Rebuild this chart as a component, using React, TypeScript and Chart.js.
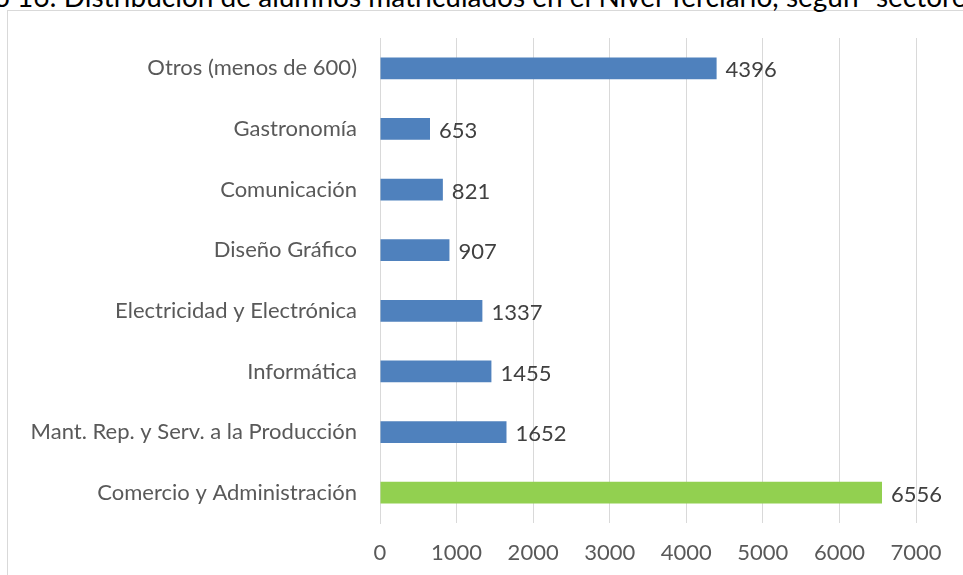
import React, { useEffect, useRef } from "react";
import { Chart, registerables } from "chart.js";

Chart.register(...registerables);

const categories = [
  "Otros (menos de 600)",
  "Gastronomía",
  "Comunicación",
  "Diseño Gráfico",
  "Electricidad y Electrónica",
  "Informática",
  "Mant. Rep. y Serv. a la Producción",
  "Comercio y Administración",
];
const values = [4396, 653, 821, 907, 1337, 1455, 1652, 6556];
const barColors = ["#4F81BD", "#4F81BD", "#4F81BD", "#4F81BD", "#4F81BD", "#4F81BD", "#4F81BD", "#92D050"];
const xMin = 0;
const xMax = 7000;
const xStep = 1000;
const titleText = 'Gráfico 16: Distribución de alumnos matriculados en el Nivel Terciario, según  "sectores"';

const FONT = "Lato, 'Open Sans', sans-serif";

const valueLabels = {
  id: "valueLabels",
  afterDatasetsDraw(chart: any) {
    const ctx = chart.ctx;
    const meta = chart.getDatasetMeta(0);
    ctx.save();
    ctx.font = `22px ${FONT}`;
    ctx.fillStyle = "#404040";
    ctx.textAlign = "left";
    ctx.textBaseline = "middle";
    meta.data.forEach((el: any, i: number) => {
      ctx.fillText(String(values[i]), el.x + 9, el.y + 2);
    });
    ctx.restore();
  },
};

export default function App() {
  const ref = useRef<HTMLCanvasElement>(null);
  useEffect(() => {
    if (!ref.current) return;
    const chart = new Chart(ref.current, {
      type: "bar",
      data: {
        labels: categories,
        datasets: [
          {
            data: values,
            backgroundColor: barColors,
            borderWidth: 0,
            categoryPercentage: 1,
            barPercentage: 0.36,
          },
        ],
      },
      options: {
        indexAxis: "y",
        responsive: false,
        animation: false,
        devicePixelRatio: 1,
        layout: { padding: { top: 38, right: 47, left: 0, bottom: 0 } },
        plugins: {
          legend: { display: false },
          tooltip: { enabled: false },
          title: { display: false },
        },
        scales: {
          x: {
            type: "linear",
            min: xMin,
            max: xMax,
            ticks: {
              stepSize: xStep,
              color: "#595959",
              font: { family: FONT, size: 22 },
              padding: 17,
              callback: (v: any) => String(v),
            },
            grid: { color: "#D9D9D9", lineWidth: 1, drawTicks: false },
            border: { display: false },
            afterFit: (axis: any) => {
              axis.height = 52;
            },
          },
          y: {
            ticks: {
              color: "#595959",
              font: { family: FONT, size: 22 },
              padding: 23,
            },
            grid: { display: false, drawTicks: false },
            border: { display: true, color: "#D9D9D9", width: 1 },
            afterFit: (axis: any) => {
              axis.width = 380;
            },
          },
        },
      },
      plugins: [valueLabels],
    });
    return () => chart.destroy();
  }, []);

  return (
    <div
      style={{
        position: "absolute",
        left: 0,
        top: 0,
        width: 963,
        height: 575,
        overflow: "hidden",
        background: "#FFFFFF",
      }}
    >
      <div
        style={{
          position: "absolute",
          left: 7,
          top: 10,
          width: 1000,
          height: 600,
          border: "1px solid #D9D9D9",
          boxSizing: "border-box",
        }}
      />
      <div
        style={{
          position: "absolute",
          left: -79,
          top: -18,
          whiteSpace: "nowrap",
          fontFamily: FONT,
          fontSize: 28,
          lineHeight: "28px",
          color: "#000000",
        }}
      >
        {titleText}
      </div>
      <canvas
        ref={ref}
        width={963}
        height={575}
        style={{ position: "absolute", left: 0, top: 0, width: 963, height: 575 }}
      />
    </div>
  );
}
